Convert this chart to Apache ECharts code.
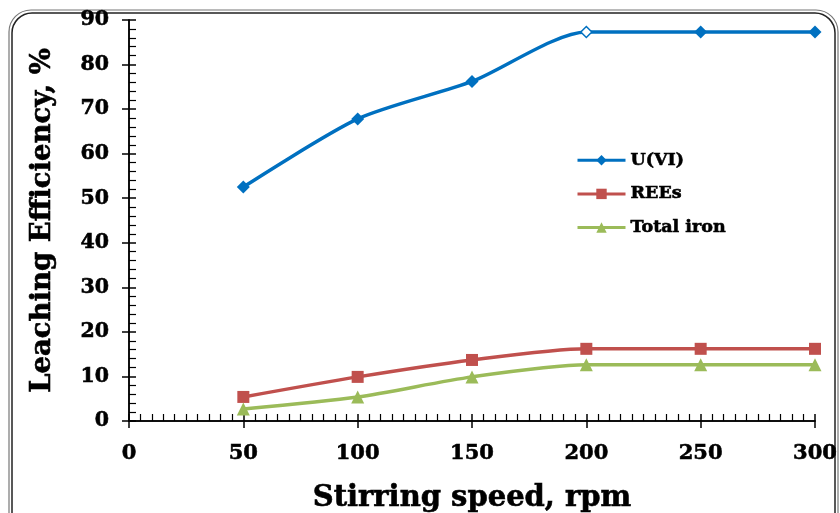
<!DOCTYPE html>
<html><head><meta charset="utf-8">
<script src="https://cdn.jsdelivr.net/npm/echarts@6/dist/echarts.min.js"></script>
<style>html,body{margin:0;padding:0;background:#fff}#c{width:840px;height:513px}</style>
</head><body><div id="c"></div>
<script>
const speeds = [50, 100, 150, 200, 250, 300];
const uvi = [52.5, 67.8, 76.2, 87.3, 87.3, 87.3];
const rees = [5.4, 9.9, 13.7, 16.2, 16.2, 16.2];
const iron = [2.7, 5.4, 9.9, 12.6, 12.6, 12.6];
const seriesNames = ['U(VI)', 'REEs', 'Total iron'];
const xTitle = 'Stirring speed, rpm';
const yTitle = 'Leaching Efficiency, %';

const FONT = '"DejaVu Serif", serif';
const chart = echarts.init(document.getElementById('c'));
const pairs = v => speeds.map((s, i) => [s, v[i]]);
const uData = pairs(uvi).map((p, i) => i === 3 ? {value: p, itemStyle: {color: '#fff', borderColor: '#0070C0', borderWidth: 1.5}, symbolSize: 11} : p);
const bold = (size) => ({fontFamily: FONT, fontWeight: 'bold', fontSize: size, color: '#000', textBorderColor: '#000', textBorderWidth: 0.6});

const baseAxis = {
  axisLine: {show: true, lineStyle: {color: '#000', width: 1.5}},
  splitLine: {show: false}
};
chart.setOption({
  animation: false,
  backgroundColor: '#fff',
  grid: {left: 129, right: 25, top: 20, bottom: 92, outerBoundsMode: 'none', containLabel: false},
  legend: {
    orient: 'vertical', left: 571, top: 146, itemGap: 15,
    itemWidth: 48, itemHeight: 13,
    lineStyle: {width: 3},
    textStyle: bold(17.5),
    data: seriesNames
  },
  xAxis: [{
    ...baseAxis, type: 'value', min: 0, max: 300, interval: 50,
    axisTick: {show: true, inside: true, length: 7, lineStyle: {color: '#000', width: 1.5}},
    minorTick: {show: true, splitNumber: 10, length: 7, lineStyle: {color: '#000', width: 1.2}},
    axisLabel: {...bold(21), margin: 22},
    name: xTitle, nameLocation: 'middle', nameGap: 63,
    nameTextStyle: bold(29)
  }, {
    ...baseAxis, type: 'value', min: 0, max: 300, interval: 50, position: 'bottom',
    axisTick: {show: true, inside: false, length: 7, lineStyle: {color: '#000', width: 1.5}},
    axisLabel: {show: false}
  }],
  yAxis: [{
    ...baseAxis, type: 'value', min: 0, max: 90, interval: 10,
    axisTick: {show: true, inside: true, length: 7, lineStyle: {color: '#000', width: 1.5}},
    minorTick: {show: true, splitNumber: 5, length: 7, lineStyle: {color: '#000', width: 1.2}},
    axisLabel: {...bold(20.5), margin: 20},
    name: yTitle, nameLocation: 'middle', nameGap: 72, nameRotate: 90,
    nameTextStyle: bold(27.5)
  }, {
    ...baseAxis, type: 'value', min: 0, max: 90, interval: 10, position: 'left',
    axisTick: {show: true, inside: false, length: 7, lineStyle: {color: '#000', width: 1.5}},
    axisLabel: {show: false}
  }],
  series: [
    {name: seriesNames[0], type: 'line', smooth: 0.25, smoothConstraint: false, data: uData, symbol: 'diamond', symbolSize: 13,
     lineStyle: {color: '#0070C0', width: 3.5}, itemStyle: {color: '#0070C0'}},
    {name: seriesNames[1], type: 'line', smooth: 0.25, smoothConstraint: false, data: pairs(rees), symbol: 'rect', symbolSize: 12,
     lineStyle: {color: '#C0504D', width: 3.5}, itemStyle: {color: '#C0504D'}},
    {name: seriesNames[2], type: 'line', smooth: 0.25, smoothConstraint: false, data: pairs(iron), symbol: 'triangle', symbolSize: 13,
     lineStyle: {color: '#9BBB59', width: 3.5}, itemStyle: {color: '#9BBB59'}}
  ],
  graphic: [
    {type: 'rect', shape: {x: 9, y: 10, width: 829, height: 530, r: 22}, style: {fill: 'none', stroke: '#777', lineWidth: 1.2}, z: -1},
    {type: 'rect', shape: {x: 12, y: 13, width: 823, height: 530, r: 20}, style: {fill: 'none', stroke: '#222', lineWidth: 1.5}, z: -1}
  ]
});
</script></body></html>
